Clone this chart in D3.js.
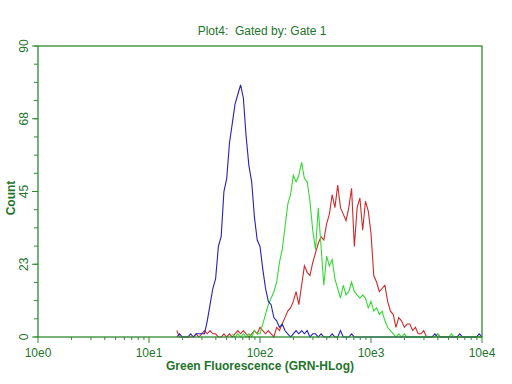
<!DOCTYPE html>
<html>
<head>
<meta charset="utf-8">
<script src="https://cdn.jsdelivr.net/npm/d3@7"></script>
<style>
  body { margin: 0; background: #fff; }
  svg { display: block; font-family: "Liberation Sans", Arial, sans-serif; }
</style>
</head>
<body id="body">
<script>
// histogram channels: 40 channels per decade, channel c sits at 10^(c/40)
var channelsPerDecade = 40;

var blueStart = 50;
var blueCounts = [0, 1, 0, 0, 0, 1, 0, 1, 1, 1, 1, 5, 10, 15, 18, 28, 31, 45, 49, 60,
    66, 72, 75, 78, 74, 62, 53, 48, 37, 30, 28, 21, 15, 11, 10, 6, 5, 3, 4, 2,
    1, 0, 1, 2, 1, 2, 1, 2, 0, 1, 1, 0, 1, 0, 0, 0, 1, 0, 0, 2,
    0, 0, 0, 1, 0, 0, 0, 0, 0, 0, 0, 0, 0, 0, 0, 0, 0, 0, 0, 0,
    0, 0, 0, 0, 0, 0, 0, 0, 0, 0, 0, 0, 0, 1, 0, 0, 0, 0, 0, 0,
    0, 0, 1, 0, 0, 0, 0, 0, 0, 1, 0];

var greenStart = 70;
var greenCounts = [1, 0, 1, 0, 1, 0, 1, 0, 2, 1, 1, 4, 7, 10, 12, 14, 17, 23, 27, 34,
    41, 44, 50, 48, 50, 54, 49, 48, 42, 33, 27, 40, 28, 16, 25, 22, 24, 18, 15, 12,
    16, 13, 14, 17, 14, 13, 12, 13, 12, 9, 11, 8, 9, 7, 8, 5, 3, 2, 1, 0,
    1, 0, 1, 0, 0, 0, 0, 0, 0, 0, 0, 0, 0, 0, 1, 0, 0, 0, 0, 1,
    0, 0, 0, 0, 0, 0, 0, 0, 0, 0, 0];

var redStart = 50;
var redCounts = [2, 0, 0, 0, 0, 0, 0, 1, 0, 1, 2, 1, 2, 1, 1, 0, 0, 1, 0, 1,
    0, 1, 2, 1, 2, 1, 0, 1, 2, 1, 3, 2, 1, 2, 1, 0, 3, 2, 4, 6,
    8, 9, 11, 14, 10, 16, 22, 20, 19, 23, 26, 29, 31, 30, 35, 38, 44, 40, 47, 40,
    38, 36, 40, 46, 28, 40, 43, 33, 42, 39, 32, 19, 17, 14, 15, 16, 11, 8, 7, 3,
    6, 5, 3, 4, 4, 2, 3, 1, 1, 2, 0, 0, 0, 0, 1, 0, 0, 0, 0, 0,
    0, 0, 0, 0, 0, 0, 0, 0, 0, 0, 0];

var xTickValues = [1, 10, 100, 1000, 10000];
var xTickLabels = ["10e0", "10e1", "10e2", "10e3", "10e4"];
var yTickValues = [0, 22.5, 45, 67.5, 90];
var yTickLabels = ["0", "23", "45", "68", "90"];

var titleText = "Plot4:  Gated by: Gate 1";
var xTitle = "Green Fluorescence (GRN-HLog)";
var yTitle = "Count";

function toPoints(start, counts) {
    return counts.map(function (c, i) {
        return { x: Math.pow(10, (start + i) / channelsPerDecade), y: c };
    });
}

var width = 512, height = 384;
var axisColor = "#2f8a2f", textColor = "#23742a";

var x = d3.scaleLog().domain([1, 10000]).range([38, 482]);
var y = d3.scaleLinear().domain([0, 90]).range([337, 46]);

var svg = d3.select("body").append("svg")
    .attr("width", width)
    .attr("height", height);

var line = d3.line()
    .x(function (d) { return x(d.x); })
    .y(function (d) { return y(d.y); });

var series = [
    { pts: toPoints(redStart, redCounts), color: "#cc2b2b" },
    { pts: toPoints(greenStart, greenCounts), color: "#35d935" },
    { pts: toPoints(blueStart, blueCounts), color: "#2323b5" }
];

svg.selectAll(".hist")
    .data(series)
    .enter().append("path")
    .attr("class", "hist")
    .attr("d", function (d) { return line(d.pts); })
    .attr("fill", "none")
    .attr("stroke", function (d) { return d.color; })
    .attr("stroke-width", 1.1);

// frame
svg.append("rect")
    .attr("x", x(1)).attr("y", y(90))
    .attr("width", x(10000) - x(1)).attr("height", y(0) - y(90))
    .attr("fill", "none")
    .attr("stroke", axisColor)
    .attr("stroke-width", 1.3);

// y axis ticks
var yMinor = d3.range(0, 90.01, 90 / 16);
svg.selectAll(".ytick")
    .data(yMinor)
    .enter().append("line")
    .attr("class", "ytick")
    .attr("x1", x(1) - 4).attr("x2", x(1))
    .attr("y1", function (d) { return y(d); })
    .attr("y2", function (d) { return y(d); })
    .attr("stroke", axisColor);

svg.selectAll(".ymajor")
    .data(yTickValues)
    .enter().append("line")
    .attr("class", "ymajor")
    .attr("x1", x(1) - 6).attr("x2", x(1))
    .attr("y1", function (d) { return y(d); })
    .attr("y2", function (d) { return y(d); })
    .attr("stroke", axisColor);

svg.selectAll(".ylabel")
    .data(yTickValues)
    .enter().append("text")
    .attr("class", "ylabel")
    .attr("transform", function (d) { return "translate(28," + y(d) + ") rotate(-90)"; })
    .attr("text-anchor", "middle")
    .attr("fill", textColor)
    .style("font-size", "12px")
    .text(function (d, i) { return yTickLabels[i]; });

// x axis ticks (log minor)
var xMinor = [];
for (var dec = 1; dec < 10000; dec *= 10) {
    for (var m = 2; m <= 9; m++) xMinor.push(dec * m);
}
svg.selectAll(".xtick")
    .data(xMinor)
    .enter().append("line")
    .attr("class", "xtick")
    .attr("x1", function (d) { return x(d); })
    .attr("x2", function (d) { return x(d); })
    .attr("y1", y(0)).attr("y2", y(0) + 3)
    .attr("stroke", axisColor);

svg.selectAll(".xmajor")
    .data(xTickValues)
    .enter().append("line")
    .attr("class", "xmajor")
    .attr("x1", function (d) { return x(d); })
    .attr("x2", function (d) { return x(d); })
    .attr("y1", y(0)).attr("y2", y(0) + 6)
    .attr("stroke", axisColor);

svg.selectAll(".xlabel")
    .data(xTickValues)
    .enter().append("text")
    .attr("class", "xlabel")
    .attr("x", function (d) { return x(d); })
    .attr("y", 357)
    .attr("text-anchor", "middle")
    .attr("fill", textColor)
    .style("font-size", "12px")
    .text(function (d, i) { return xTickLabels[i]; });

// titles
svg.append("text")
    .attr("x", 262).attr("y", 35)
    .attr("text-anchor", "middle")
    .attr("fill", textColor)
    .style("font-size", "12px")
    .style("white-space", "pre")
    .text(titleText);

svg.append("text")
    .attr("x", 260).attr("y", 370)
    .attr("text-anchor", "middle")
    .attr("fill", textColor)
    .style("font-size", "12px")
    .style("font-weight", "bold")
    .text(xTitle);

svg.append("text")
    .attr("transform", "translate(15,198) rotate(-90)")
    .attr("text-anchor", "middle")
    .attr("fill", textColor)
    .style("font-size", "12px")
    .style("font-weight", "bold")
    .text(yTitle);
</script>
</body>
</html>
